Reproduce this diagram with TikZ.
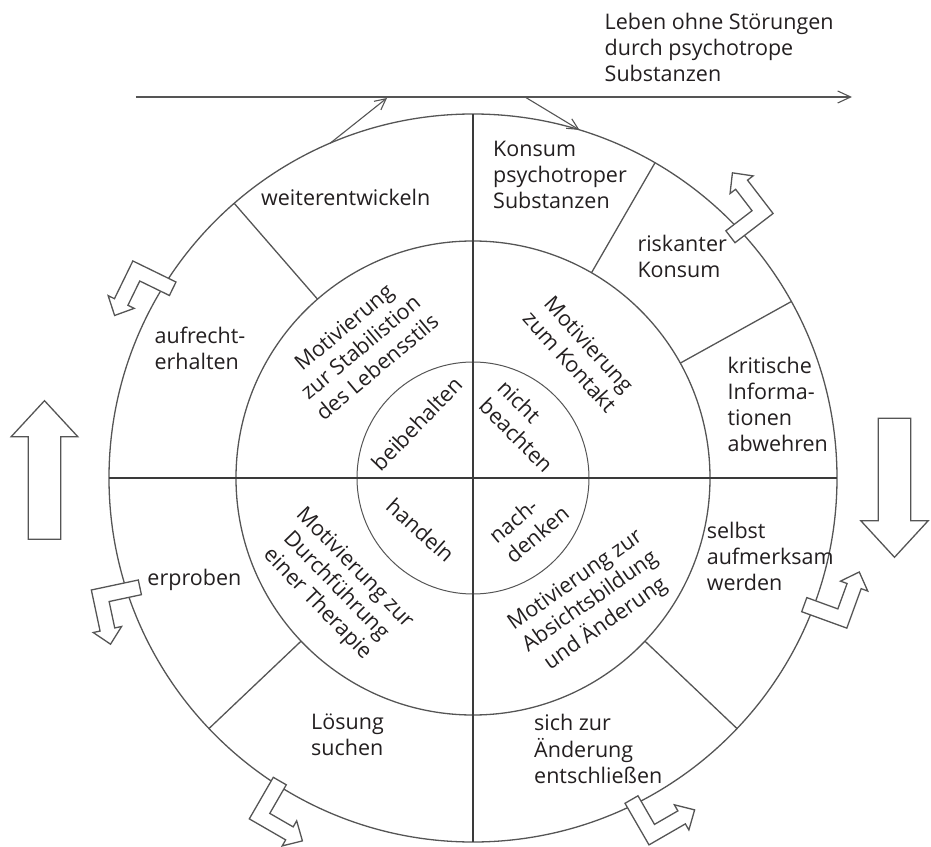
\documentclass[tikz,border=0pt]{standalone}
\usepackage{fontspec}
\setmainfont{Open Sans}
\usetikzlibrary{arrows.meta}
\definecolor{lc}{HTML}{555555}
\definecolor{lcd}{HTML}{3A3A3A}
\definecolor{tc}{HTML}{231F20}
\newcommand\Ltab[1]{\begin{tabular}[t]{@{}l@{}}#1\end{tabular}}
\newcommand\Ctab[1]{\begin{tabular}[t]{@{}c@{}}#1\end{tabular}}
\begin{document}
\begin{tikzpicture}[x=1pt,y=1pt,
  ringline/.style={draw=lc, line width=1.3pt},
  innerline/.style={draw=lc, line width=1.0pt},
  crossline/.style={draw=lcd, line width=1.5pt},
  thinarrow/.style={draw=lc, line width=1.1pt, -{Straight Barb[length=11pt,width=11pt,line width=1.1pt]}},
  toparrow/.style={draw=lc, line width=1.1pt, -{Straight Barb[length=13pt,width=12pt,line width=1.1pt]}},
  bentarrow/.style={draw=lc, fill=white, line width=1.3pt, line join=miter},
  bigarrow/.style={draw=lc, fill=white, line width=1.3pt, line join=miter},
  lbl/.style={inner sep=0pt, text=tc, font=\fontsize{21.5}{26}\selectfont}]
\useasboundingbox (-473,-368) rectangle (458,478);

% centre and circles
\coordinate (C) at (0,0);
\draw[ringline] (C) circle[radius=364];
\draw[ringline] (C) circle[radius=237];
\draw[innerline] (C) circle[radius=116];

% cross
\coordinate (N) at (90:364);
\coordinate (S) at (270:364);
\coordinate (W) at (180:364);
\coordinate (E) at (0:364);
\draw[crossline] (N) -- (S);
\draw[crossline] (W) -- (E);

% radial separators of the outer ring
\foreach \a/\n in {131/ul, 60/ur, 29/r, -43.5/lr, 223.5/ll}{
  \coordinate (\n i) at (\a:237);
  \coordinate (\n o) at (\a:364);
  \draw[ringline] (\n i) -- (\n o);
}

% top line with arrow
\coordinate (tl0) at (-337,381);
\coordinate (tl1) at (379,381);
\draw[toparrow] (tl0) -- (tl1);
\coordinate (a1s) at (113.1:364);
\coordinate (a1e) at (-86,380);
\draw[thinarrow] (a1s) -- (a1e);
\coordinate (a2s) at (52,381);
\coordinate (a2e) at (73:364);
\draw[thinarrow] (a2s) -- (a2e);

% bent hollow arrows on the outer circle
\foreach \px/\py/\th in {262/235.3/37.5, -297/196/154, -334.7/-102/192,
                         -199.7/-299.3/240, 152/-325.3/-60, 328.7/-133.7/-20}{
  \begin{scope}[shift={(\px,\py)}, rotate=\th]
    \filldraw[bentarrow] (0,0) -- (48,0) -- (48,42) -- (55,42) -- (40.5,57)
      -- (26,42) -- (33,42) -- (33,15) -- (0,15) -- cycle;
  \end{scope}
}

% big hollow arrows
\filldraw[bigarrow] (-444.7,-61.3) -- (-412.3,-61.3) -- (-412.3,41.3) -- (-395.2,41.3)
  -- (-428.5,77.3) -- (-461.8,41.3) -- (-444.7,41.3) -- cycle;
\filldraw[bigarrow] (405.3,59.7) -- (437.7,59.7) -- (437.7,-42.7) -- (455.2,-42.7)
  -- (421.5,-79.3) -- (387.8,-42.7) -- (405.3,-42.7) -- cycle;

% outer texts
\node[lbl, anchor=base west] (leben) at (131.5,448) {\Ltab{Leben ohne Störungen\\durch psychotrope\\Substanzen}};
\node[lbl, anchor=base west] (weiter) at (-212,272.3) {\Ltab{weiterentwickeln}};
\node[lbl, anchor=base west] (konsum) at (20,321) {\Ltab{Konsum\\psychotroper\\Substanzen}};
\node[lbl, anchor=base west] (risk) at (164.3,226.3) {\Ltab{riskanter\\Konsum}};
\node[lbl, anchor=base west] (krit) at (254.4,104.5) {\Ltab{kritische\\Informa-\\tionen\\abwehren}};
\node[lbl, anchor=base west] (selbst) at (233.6,-60) {\Ltab{selbst\\aufmerksam\\werden}};
\node[lbl, anchor=base west] (sich) at (61,-252.7) {\Ltab{sich zur\\Änderung\\entschließen}};
\node[lbl, anchor=base west] (loes) at (-162,-251) {\Ltab{Lösung\\suchen}};
\node[lbl, anchor=base west] (erpr) at (-325.7,-107) {\Ltab{erproben}};
\node[lbl, anchor=base west] (aufr) at (-318.6,135) {\Ltab{aufrecht-\\erhalten}};

% middle ring texts
\node[lbl, rotate=40] (m1) at (-111,129) {\Ctab{Motivierung\\zur Stabilistion\\des Lebensstils}};
\node[lbl, rotate=-48] (m2) at (104.5,123.3) {\Ctab{Motivierung\\zum Kontakt}};
\node[lbl, rotate=-46] (m3) at (-137.5,-108.5) {\Ctab{Motivierung zur\\Durchführung\\einer Therapie}};
\node[lbl, rotate=35] (m4) at (117.9,-124.7) {\Ctab{Motivierung zur\\Absichtsbildung\\und Änderung}};

% inner circle texts
\node[lbl, rotate=46] (i1) at (-54.3,52.4) {\Ltab{beibehalten}};
\node[lbl, rotate=-45] (i2) at (50.6,50) {\Ltab{nicht\\beachten}};
\node[lbl, rotate=-42] (i3) at (-54.3,-54.4) {\Ltab{handeln}};
\node[lbl, rotate=40] (i4) at (57.5,-48.5) {\Ltab{nach-\\denken}};
\end{tikzpicture}
\end{document}
